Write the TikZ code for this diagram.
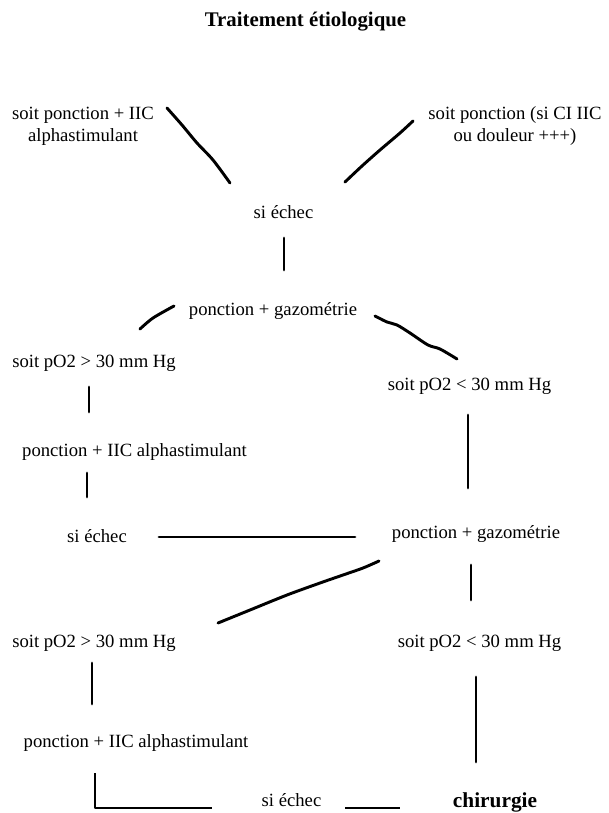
\documentclass[tikz,border=0pt]{standalone}
\usepackage{fontspec}
\setmainfont{Liberation Serif}
\usepackage{tikz}

\begin{document}
\begin{tikzpicture}[x=0.75pt,y=-0.75pt,
  txt/.style={font=\fontsize{14}{16.5}\selectfont,anchor=base,align=center,inner sep=0pt},
  gras/.style={txt,font=\bfseries\fontsize{15.6}{18}\selectfont},
  link/.style={line width=2.2pt,line cap=round,line join=round}]
\useasboundingbox (0,0) rectangle (608,813);
  \node[gras] (titre) at (305.5,27) {Traitement étiologique};
  \node[txt] (soitiic) at (83,142) {soit ponction + IIC\\alphastimulant};
  \node[txt] (soitci) at (515,142) {soit ponction (si CI IIC\\ou douleur +++)};
  \node[txt] (echec1) at (283.5,218) {si échec};
  \node[txt] (gazo1) at (273,315) {ponction + gazométrie};
  \node[txt] (sup1) at (94,367) {soit pO2 > 30 mm Hg};
  \node[txt] (inf1) at (469.5,390) {soit pO2 < 30 mm Hg};
  \node[txt] (alpha1) at (134.5,456) {ponction + IIC alphastimulant};
  \node[txt] (echec2) at (97,542) {si échec};
  \node[txt] (gazo2) at (476,538) {ponction + gazométrie};
  \node[txt] (sup2) at (94,647) {soit pO2 > 30 mm Hg};
  \node[txt] (inf2) at (479.5,647) {soit pO2 < 30 mm Hg};
  \node[txt] (alpha2) at (136,747) {ponction + IIC alphastimulant};
  \node[txt] (echec3) at (291.5,806) {si échec};
  \node[gras,font=\bfseries\fontsize{16}{19}\selectfont] (chir) at (495,807) {chirurgie};

  \coordinate (soitiic-bas) at (167,108);  \coordinate (echec1-g) at (230,183);
  \coordinate (soitci-bas) at (413,121);   \coordinate (echec1-d) at (345,182);
  \coordinate (echec1-bas) at (284,238);   \coordinate (gazo1-haut) at (284,270);
  \coordinate (gazo1-g) at (174,306);      \coordinate (sup1-haut) at (140,329);
  \coordinate (gazo1-d) at (375,316);      \coordinate (inf1-haut) at (457,359);
  \coordinate (sup1-bas) at (89,387);      \coordinate (alpha1-haut) at (89,412);
  \coordinate (inf1-bas) at (468,415);     \coordinate (gazo2-haut) at (468,488);
  \coordinate (alpha1-bas) at (87,473);    \coordinate (echec2-haut) at (87,497);
  \coordinate (echec2-d) at (159,537);     \coordinate (gazo2-g) at (355,537);
  \coordinate (gazo2-bg) at (379,561);     \coordinate (sup2-haut) at (218,623);
  \coordinate (gazo2-bas) at (471,565);    \coordinate (inf2-haut) at (471,600);
  \coordinate (sup2-bas) at (92,663);      \coordinate (alpha2-haut) at (92,704);
  \coordinate (inf2-bas) at (476,677);     \coordinate (chir-haut) at (476,762);
  \coordinate (alpha2-bas) at (95,773);    \coordinate (echec3-g) at (212,808);
  \coordinate (echec3-d) at (345,808);     \coordinate (chir-g) at (400,808);

  \draw[link] plot[smooth,tension=.5] coordinates {(soitiic-bas) (182,125) (197,143) (213,160) (echec1-g)};
  \draw[link] plot[smooth,tension=.5] coordinates {(echec1-d) (362,166) (380,150) (400,133) (soitci-bas)};
  \draw[link] (echec1-bas) -- (gazo1-haut);
  \draw[link] plot[smooth,tension=.5] coordinates {(sup1-haut) (153,318) (gazo1-g)};
  \draw[link] plot[smooth,tension=.5] coordinates {(gazo1-d) (387,322) (397,325) (410,333) (428,345) (440,349) (inf1-haut)};
  \draw[link] (sup1-bas) -- (alpha1-haut);
  \draw[link] (inf1-bas) -- (gazo2-haut);
  \draw[link] (alpha1-bas) -- (echec2-haut);
  \draw[link] (echec2-d) -- (gazo2-g);
  \draw[link] plot[smooth,tension=.5] coordinates {(sup2-haut) (250,610) (287,595) (320,583) (343,575) (363,568) (gazo2-bg)};
  \draw[link] (gazo2-bas) -- (inf2-haut);
  \draw[link] (sup2-bas) -- (alpha2-haut);
  \draw[link] (inf2-bas) -- (chir-haut);
  \draw[link,line cap=butt] (alpha2-bas) -- (alpha2-bas |- echec3-g) -- (echec3-g);
  \draw[link,line cap=butt] (echec3-d) -- (chir-g);
\end{tikzpicture}
\end{document}
